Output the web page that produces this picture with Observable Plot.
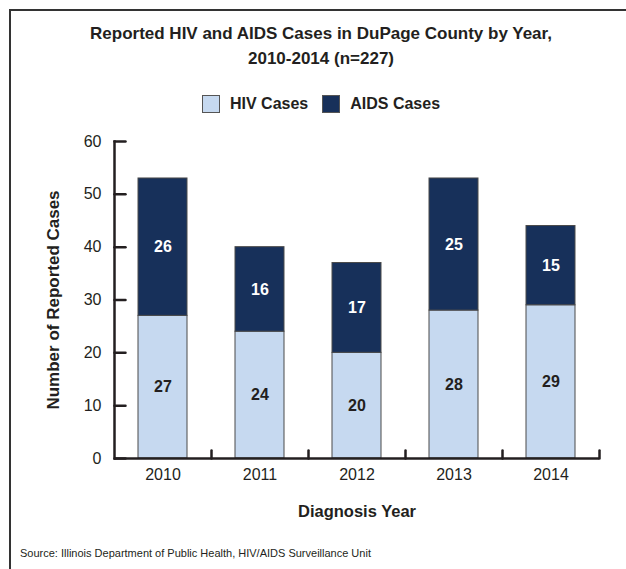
<!DOCTYPE html>
<html>
<head>
<meta charset="utf-8">
<script src="https://cdn.jsdelivr.net/npm/d3@7"></script>
<script src="https://cdn.jsdelivr.net/npm/@observablehq/plot@0.6"></script>
<style>
  html, body { margin: 0; padding: 0; background: #fff; }
  #wrap { position: relative; width: 626px; height: 569px; overflow: hidden; font-family: "Liberation Sans", Arial, sans-serif; color: #231f20; }
  #frame { position: absolute; left: 9px; top: 9px; width: 640px; height: 600px; border-top: 2.5px solid #333; border-left: 2.5px solid #333; }
  #title { position: absolute; left: 10px; width: 622px; top: 21px; text-align: center; font-weight: bold; font-size: 17px; line-height: 25px; }
  #legend { position: absolute; left: 10px; width: 622px; top: 95px; text-align: center; font-weight: bold; font-size: 16px; }
  #legend .item { display: inline-flex; align-items: center; margin: 0 7px; }
  #legend .sw { display: inline-block; width: 16px; height: 16px; border: 1px solid #555; margin-right: 10px; }
  #chart { position: absolute; left: 0; top: 125px; }
  #source { position: absolute; left: 20px; top: 547px; font-family: "Liberation Sans Narrow", "Liberation Sans", sans-serif; font-size: 11px; }
</style>
</head>
<body>
<div id="wrap">
  <div id="frame"></div>
  <div id="title">Reported HIV and AIDS Cases in DuPage County by Year,<br>2010-2014 (n=227)</div>
  <div id="legend"></div>
  <div id="chart"></div>
  <div id="source">Source: Illinois Department of Public Health, HIV/AIDS Surveillance Unit</div>
</div>
<script>
const years = ["2010", "2011", "2012", "2013", "2014"];
const hivCases = [27, 24, 20, 28, 29];
const aidsCases = [26, 16, 17, 25, 15];
const seriesNames = ["HIV Cases", "AIDS Cases"];
const seriesColors = ["#c6d9f0", "#17305a"];
const yTicks = [0, 10, 20, 30, 40, 50, 60];

const data = [];
years.forEach((y, i) => {
  data.push({year: y, type: seriesNames[0], value: hivCases[i]});
  data.push({year: y, type: seriesNames[1], value: aidsCases[i]});
});

// legend
const legend = document.getElementById("legend");
seriesNames.forEach((name, i) => {
  const it = document.createElement("span");
  it.className = "item";
  const sw = document.createElement("span");
  sw.className = "sw";
  sw.style.background = seriesColors[i];
  it.appendChild(sw);
  it.appendChild(document.createTextNode(name));
  legend.appendChild(it);
});

const W = 626, H = 405, ML = 114, MR = 27, MT = 16, MB = 72;
const step = (W - ML - MR) / years.length;
const ink = "#231f20";
const tickShape = {draw(context, l) { context.moveTo(0, 0); context.lineTo(0, -l); }};

const plot = Plot.plot({
  width: W,
  height: H,
  marginLeft: ML,
  marginRight: MR,
  marginTop: MT,
  marginBottom: MB,
  style: {fontFamily: "Liberation Sans, Arial, sans-serif", fontSize: "16px", color: ink, background: "transparent"},
  x: {domain: years, paddingInner: 0.5, paddingOuter: 0.25},
  y: {domain: [0, 60]},
  color: {domain: seriesNames, range: seriesColors},
  marks: [
    Plot.barY(data, Plot.stackY({x: "year", y: "value", z: "type", fill: "type", stroke: "#4a4a4a", strokeWidth: 1})),
    Plot.text(data, Plot.stackY({x: "year", y: "value", z: "type", text: "value",
      fill: d => d.type === seriesNames[0] ? "#231f20" : "#ffffff", fontWeight: "bold", fontSize: 16})),
    Plot.axisY(yTicks, {tickSize: 0, tickPadding: 13, fontSize: 16, label: null}),
    Plot.axisY({ticks: [], label: "Number of Reported Cases", labelAnchor: "center", labelArrow: "none", labelOffset: 68, fontSize: 17, fontWeight: "bold"}),
    Plot.axisX({tickSize: 0, tickPadding: 10, fontSize: 16, label: null}),
    Plot.axisX({ticks: [], label: "Diagnosis Year", labelAnchor: "center", labelArrow: "none", labelOffset: 58, fontSize: 16.5, fontWeight: "bold"}),
    Plot.vector(yTicks, {y: d => d, frameAnchor: "left", rotate: 90, length: 11, anchor: "start", shape: tickShape, stroke: ink, strokeWidth: 2.5}),
    Plot.vector(years, {x: d => d, y: 0, dx: step / 2, length: 8, anchor: "start", shape: tickShape, stroke: ink, strokeWidth: 2.5}),
    Plot.frame({anchor: "left", stroke: ink, strokeWidth: 2.5}),
    Plot.ruleY([0], {stroke: ink, strokeWidth: 2.5})
  ]
});
plot.querySelectorAll("[aria-label='y-axis label'] text, [aria-label='x-axis label'] text").forEach(t => t.setAttribute("font-weight", "bold"));
document.getElementById("chart").appendChild(plot);
</script>
</body>
</html>
